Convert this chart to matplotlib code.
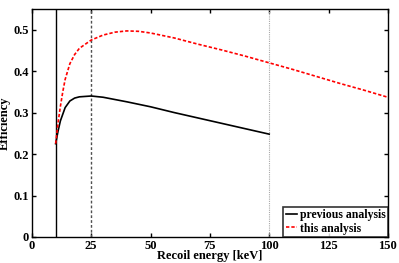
import numpy as np
import matplotlib
matplotlib.use("Agg")
import matplotlib.pyplot as plt

# previous analysis (black solid)
prev_e = [10, 11, 12, 14, 16, 18, 20, 25, 30, 40, 50, 60, 70, 80, 90, 100]
prev_eff = [0.225, 0.255, 0.28, 0.312, 0.328, 0.335, 0.338, 0.340, 0.337,
            0.326, 0.314, 0.300, 0.287, 0.274, 0.261, 0.248]

# this analysis (red dashed)
this_e = [10, 11, 12, 13, 14, 16, 18, 20, 25, 30, 35, 40, 45, 50, 60, 70, 80,
          90, 100, 110, 120, 130, 140, 150]
this_eff = [0.225, 0.275, 0.315, 0.35, 0.38, 0.418, 0.44, 0.455, 0.475, 0.487,
            0.494, 0.497, 0.496, 0.492, 0.480, 0.465, 0.451, 0.436, 0.420,
            0.404, 0.387, 0.370, 0.354, 0.337]

plt.rcParams['font.family'] = ['Liberation Serif', 'DejaVu Serif']
plt.rcParams['font.weight'] = 'bold'

fig = plt.figure(figsize=(3.99, 2.63), dpi=100)
ax = fig.add_axes([0.080, 0.099, 0.892, 0.867])

ax.axvline(10, color='black', lw=1.0)
ax.axvline(25, color='#505050', lw=1.0, ls=(0, (2, 1.5)))
ax.axvline(100, color='#a8a8a8', lw=0.8, ls=(0, (1, 1)))

ax.plot(prev_e, prev_eff, color='black', lw=1.2, label='previous analysis')
ax.plot(this_e, this_eff, color='red', lw=1.2, ls=(0, (2, 1.2)), label='this analysis')

ax.set_xlim(0, 150)
ax.set_ylim(0, 0.55)
ax.set_xticks([0, 25, 50, 75, 100, 125, 150])
ax.set_yticks([0, 0.1, 0.2, 0.3, 0.4, 0.5])
ax.set_yticklabels(['0', '0.1', '0.2', '0.3', '0.4', '0.5'])
ax.tick_params(direction='in', top=True, right=True, labelsize=9, pad=2,
               length=3, width=1.0)
for lab in ax.get_xticklabels() + ax.get_yticklabels():
    lab.set_fontweight('bold')
for s in ax.spines.values():
    s.set_linewidth(1.0)

ax.set_xlabel('Recoil energy [keV]', fontsize=9, fontweight='bold', labelpad=-1)
ax.set_ylabel('Efficiency', fontsize=9, fontweight='bold', labelpad=2)

leg = ax.legend(loc='lower right', frameon=True, fancybox=False,
                borderpad=0.2, handlelength=1.0, handletextpad=0.2,
                labelspacing=0.1, borderaxespad=0.0, prop={'weight': 'bold', 'size': 8.5})
leg.get_frame().set_edgecolor('black')
leg.get_frame().set_linewidth(1.2)

fig.savefig('out.png', dpi=100)
